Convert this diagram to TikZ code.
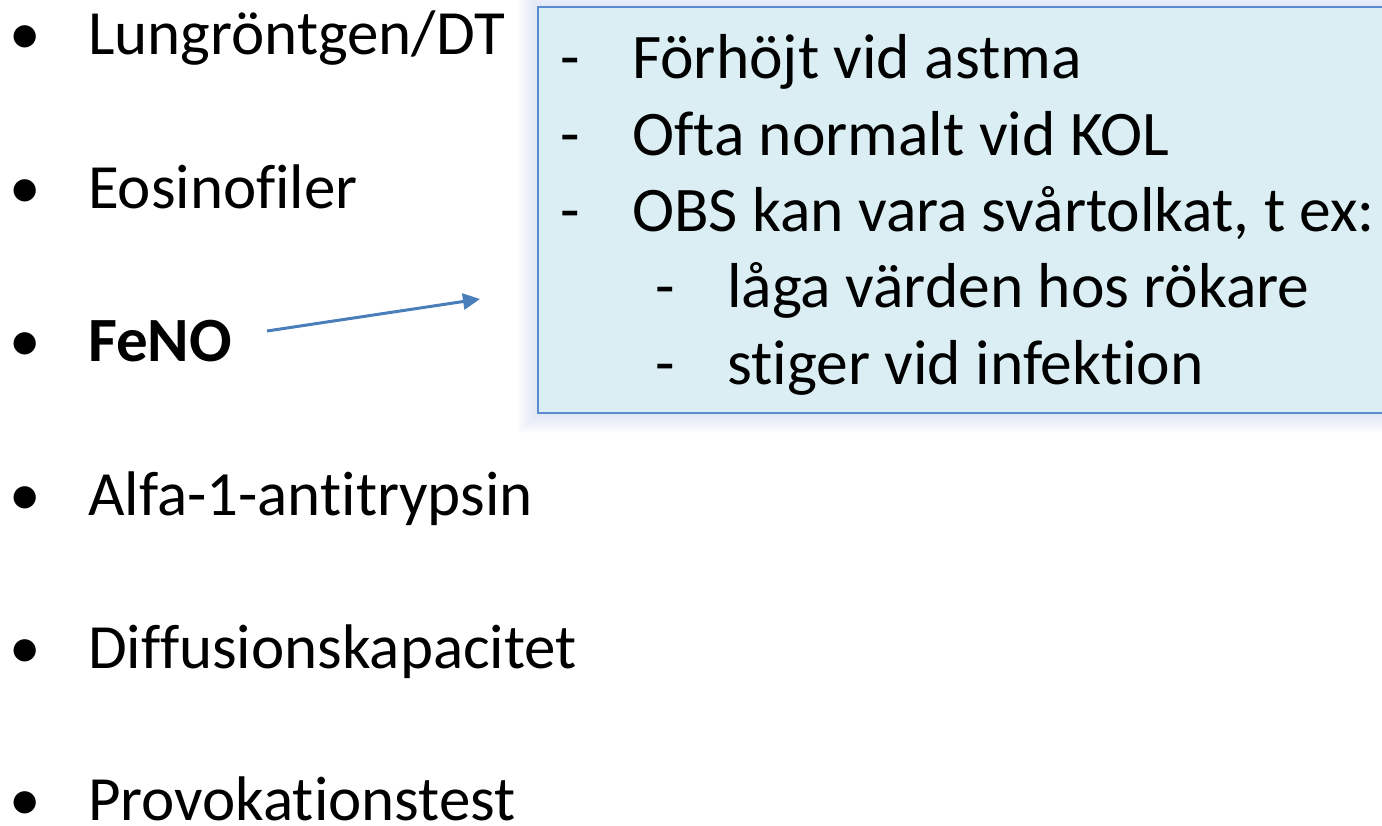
\documentclass[tikz,border=0pt]{standalone}
\usepackage{fontspec}
\setmainfont[Ligatures={NoCommon,NoContextual}]{Carlito}
\usetikzlibrary{arrows.meta}
\definecolor{boxfill}{HTML}{DAEEF3}
\definecolor{boxline}{HTML}{5B8BD0}
\definecolor{arrowcol}{HTML}{4A7EBB}
\definecolor{glow}{HTML}{C9D6EE}
\tikzset{
  item/.style={anchor=base west, inner sep=0pt, font=\fontsize{63}{63}\selectfont},
  bul/.style={anchor=base, inner sep=0pt, font=\fontsize{63}{63}\selectfont},
  boxtext/.style={anchor=base west, inner sep=0pt, font=\fontsize{63.5}{63.5}\selectfont},
  callout/.style={fill=boxfill, draw=boxline, line width=2pt},
  pointer/.style={draw=arrowcol, line width=3pt, -{Triangle[length=17pt,width=16pt]}}
}
\begin{document}
\begin{tikzpicture}[x=1pt,y=-1pt]
\useasboundingbox (0,0) rectangle (1382,825);
\clip (0,0) rectangle (1382,825);
% left list
\foreach \y/\n in {54/a,208/b,361/c,515/d,668/e,820/f}{
  \node[bul] (bul\n) at (25,\y) {•};
}
\node[item] (lung) at (88,54) {Lungröntgen/DT};
\node[item] (eos) at (88,208) {Eosinofiler};
\node[item] (feno) at (88,361) {\bfseries FeNO};
\node[item] (alfa) at (88,515) {Alfa-1-antitrypsin};
\node[item] (diff) at (88,668) {Diffusionskapacitet};
\node[item] (prov) at (88,820) {Provokationstest};
% glow
\foreach \i in {1,...,10}{
  \fill[glow, opacity=0.08] (538-2*\i,7-2*\i) rectangle (1400,413+2*\i);
}
% callout box
\path[callout] (538,7) rectangle (1400,413);
\node[boxtext] (d1) at (560,78) {-};
\node[boxtext] (t1) at (632,78) {Förhöjt vid astma};
\node[boxtext] (d2) at (560,155) {-};
\node[boxtext] (t2) at (632,155) {Ofta normalt vid KOL};
\node[boxtext] (d3) at (560,231) {-};
\node[boxtext] (t3) at (632,231) {OBS kan vara svårtolkat, t ex:};
\node[boxtext] (d4) at (655,307) {-};
\node[boxtext] (t4) at (727,307) {låga värden hos rökare};
\node[boxtext] (d5) at (655,384) {-};
\node[boxtext] (t5) at (727,384) {stiger vid infektion};
% arrow
\coordinate (arrowstart) at (267,331);
\coordinate (arrowend) at (480,299);
\draw[pointer] (arrowstart) -- (arrowend);
\end{tikzpicture}
\end{document}
